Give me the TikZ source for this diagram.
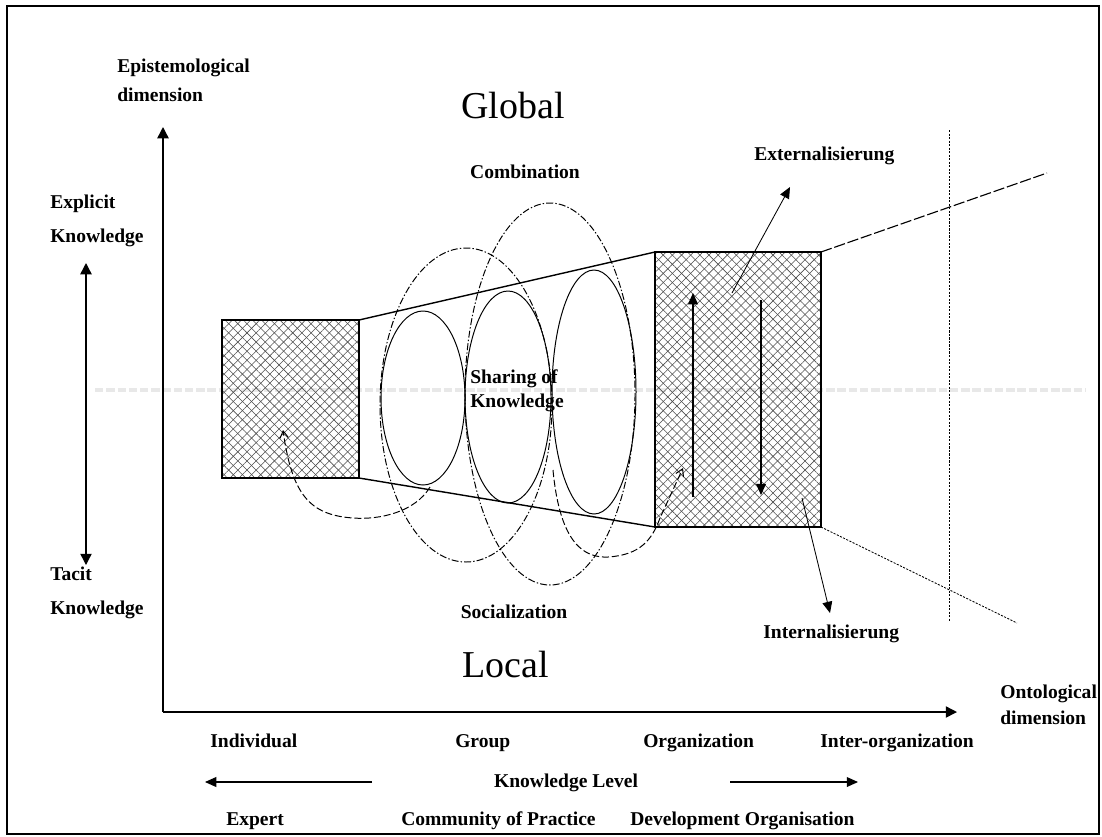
\documentclass[tikz,border=0pt]{standalone}
\usepackage{fontspec}
\setmainfont{Liberation Serif}
\usetikzlibrary{arrows.meta,patterns.meta}

\begin{document}
\begin{tikzpicture}[x=0.025cm,y=-0.025cm,
  lbl/.style={font=\fontsize{13.9}{16}\selectfont\bfseries,inner sep=0pt,anchor=base west},
  big/.style={font=\fontsize{27}{30}\selectfont,inner sep=0pt,anchor=base},
  axis/.style={line width=1pt,-{Triangle[length=8pt,width=8pt]}},
  inarrow/.style={line width=0.8pt,-{Triangle[length=8pt,width=7pt]}},
  hatch/.style={draw,line width=1pt,pattern color=black!70,
    pattern={Lines[angle=45,distance=4.6pt,line width=0.4pt]},
    preaction={pattern color=black!70,pattern={Lines[angle=-45,distance=4.6pt,line width=0.4pt]}}},
  ell/.style={line width=0.7pt},
  dd/.style={line width=0.7pt,dash pattern=on 5pt off 1.5pt on 1pt off 1.5pt},
  curv/.style={line width=0.7pt,dash pattern=on 5pt off 2pt,-{Straight Barb[length=5pt,width=6pt]}},
  longdash/.style={line width=0.8pt,dash pattern=on 8pt off 2pt},
  finedot/.style={line width=0.6pt,dash pattern=on 1.5pt off 1pt}]
\useasboundingbox (0,0) rectangle (1102,836);
\draw[line width=2pt] (7,6) rectangle (1099,834);
\draw[gray!18,line width=3pt,dash pattern=on 6pt off 2pt] (95,390) -- (1085,390);

% axes
\coordinate (o) at (163,712);
\coordinate (ytop) at (163,127);
\coordinate (xend) at (957,712);
\draw[axis] (o) -- (ytop);
\draw[axis] (o) -- (xend);
\coordinate (ex) at (86,263);
\coordinate (ta) at (86,565);
\draw[axis,{Triangle[length=8pt,width=8pt]}-{Triangle[length=8pt,width=8pt]}] (ta) -- (ex);

% knowledge boxes
\path[hatch] (222,320) rectangle (359,478);
\path[hatch] (655,252) rectangle (821,527);
\coordinate (lbtr) at (359,320);
\coordinate (lbbr) at (359,478);
\coordinate (rbtl) at (655,252);
\coordinate (rbbl) at (655,527);
\coordinate (rbtr) at (821,252);
\coordinate (rbbr) at (821,527);
\draw[line width=1pt] (lbtr) -- (rbtl);
\draw[line width=1pt] (lbbr) -- (rbbl);
\coordinate (ue) at (1047,173);
\coordinate (le) at (1017,623);
\draw[longdash] (rbtr) -- (ue);
\draw[finedot] (rbbr) -- (le);
\coordinate (vt) at (949,130);
\coordinate (vb) at (949,622);
\draw[finedot] (vt) -- (vb);

% sharing ellipses
\foreach \cx/\cy/\rx/\ry in {423/398/42/87,508/397/43/106,594/392/42/122}
  \draw[ell] (\cx,\cy) ellipse [x radius=\rx,y radius=\ry];
\foreach \cx/\cy/\rx/\ry in {466/405/86/157,550/394/85/191}
  \draw[dd] (\cx,\cy) ellipse [x radius=\rx,y radius=\ry];

% curved arrows into the boxes
\coordinate (ls) at (430,487);
\coordinate (lt) at (283,430);
\draw[curv] (ls) .. controls (415,512) and (380,520) .. (353,518)
  .. controls (310,515) and (292,495) .. (lt);
\coordinate (rs) at (553,470);
\coordinate (rt) at (683,468);
\draw[curv] (rs) .. controls (560,545) and (585,558) .. (608,557)
  .. controls (640,555) and (652,540) .. (660,518) -- (rt);

% arrows in the organization box
\coordinate (up1) at (693,497);
\coordinate (up2) at (693,293);
\coordinate (dn1) at (761,300);
\coordinate (dn2) at (761,495);
\coordinate (ex1) at (732,293);
\coordinate (ex2) at (790,187);
\coordinate (in1) at (802,498);
\coordinate (in2) at (830,613);
\draw[inarrow] (up1) -- (up2);
\draw[inarrow] (dn1) -- (dn2);
\draw[inarrow,line width=0.6pt] (ex1) -- (ex2);
\draw[inarrow,line width=0.6pt] (in1) -- (in2);

% labels
\node[lbl] (epi) at (117,72) {Epistemological};
\node[lbl] (epi2) at (117,101) {dimension};
\node[lbl] (expl) at (50,208) {Explicit};
\node[lbl] (expl2) at (50,242) {Knowledge};
\node[lbl] (tac) at (50,580) {Tacit};
\node[lbl] (tac2) at (50,614) {Knowledge};
\node[big] (glob) at (513,118) {Global};
\node[big] (loc) at (506,677) {Local};
\node[lbl,anchor=base] (comb) at (525,178) {Combination};
\node[lbl,anchor=base] (soc) at (514,618) {Socialization};
\node[lbl] (shr) at (470,383) {Sharing of};
\node[lbl] (shr2) at (470,407) {Knowledge};
\node[lbl] (ext) at (754,160) {Externalisierung};
\node[lbl] (int) at (763,638) {Internalisierung};
\node[lbl] (ont) at (1000,698) {Ontological};
\node[lbl] (ont2) at (1000,724) {dimension};
\foreach \x/\txt/\nm in {210/Individual/ind,455/Group/grp,643/Organization/org,820/Inter-organization/inter}
  \node[lbl] (\nm) at (\x,747) {\txt};
\node[lbl,anchor=base] (klev) at (566,787) {Knowledge Level};
\coordinate (la1) at (372,782);
\coordinate (la2) at (205,782);
\coordinate (ra1) at (730,782);
\coordinate (ra2) at (858,782);
\draw[inarrow] (la1) -- (la2);
\draw[inarrow] (ra1) -- (ra2);
\foreach \x/\txt/\nm in {226/Expert/exp,401/Community of Practice/cop,630/Development Organisation/dev}
  \node[lbl] (\nm) at (\x,825) {\txt};
\end{tikzpicture}
\end{document}
